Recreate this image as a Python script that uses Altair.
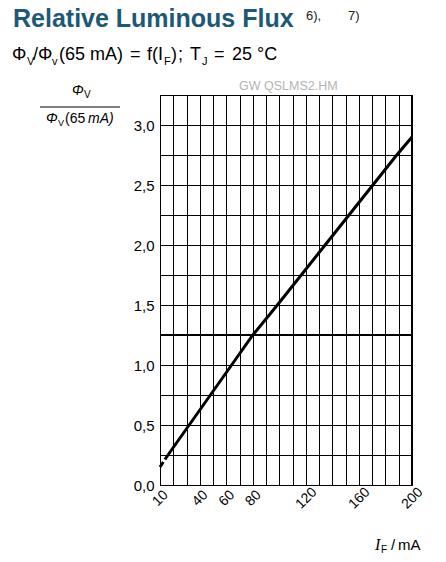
import altair as alt
import pandas as pd

# ---- data ----
current_ma = [10, 16, 32, 48, 64, 80, 98.5, 116.5, 134.5, 152.5, 170.5, 188.5, 200]
rel_flux = [0.15, 0.25, 0.5, 0.75, 1.0, 1.25, 1.5, 1.75, 2.0, 2.25, 2.5, 2.75, 2.9]
dashed_until = 16  # extrapolated (dashed) part of the curve

x_grid = [10, 20, 30, 40, 50, 60, 70, 80, 90, 100, 110, 120, 130, 140, 150,
          160, 170, 180, 190, 200]
x_labels = [10, 40, 60, 80, 120, 160, 200]
y_grid = [0, 0.25, 0.5, 0.75, 1.0, 1.25, 1.5, 1.75, 2.0, 2.25, 2.5, 2.75, 3.0, 3.25]
y_labels = [0, 0.5, 1.0, 1.5, 2.0, 2.5, 3.0]
highlight_level = [1.25]
x_domain = [10, 200]
y_domain = [0, 3.25]

FONT = "Liberation Sans"
SERIF = "Liberation Serif"
TITLE_COLOR = "#1d5876"

df = pd.DataFrame({"I": current_ma, "phi": rel_flux})
df_dash = df[df["I"] <= dashed_until]
df_solid = df[df["I"] >= dashed_until]

xlab_list = ",".join(str(v) for v in x_labels)
ylab_list = ",".join(str(v) for v in y_labels)

x_enc = alt.X(
    "I:Q",
    scale=alt.Scale(domain=x_domain, nice=False, zero=False),
    axis=alt.Axis(
        values=x_grid,
        labelExpr=f"indexof([{xlab_list}], datum.value) >= 0 ? datum.label : ''",
        grid=True, gridColor="black", gridOpacity=1, gridWidth=1,
        ticks=False, domain=False,
        labelAngle=315, labelAlign="center", labelBaseline="middle",
        labelPadding=13, labelFontSize=14, labelFont=FONT, labelColor="black",
        labelFlush=False, labelOverlap=False, labelBound=False,
        title=None,
    ),
)
y_enc = alt.Y(
    "phi:Q",
    scale=alt.Scale(domain=y_domain, nice=False, zero=True),
    axis=alt.Axis(
        values=y_grid,
        labelExpr=f"indexof([{ylab_list}], datum.value) >= 0 ? replace(format(datum.value, '.1f'), '.', ',') : ''",
        grid=True, gridColor="black", gridOpacity=1, gridWidth=1,
        ticks=False, domain=False,
        labelPadding=6, labelFontSize=15, labelFont=FONT, labelColor="black",
        labelFlush=False, labelOverlap=False, labelBound=False,
        title=None,
    ),
)

solid = alt.Chart(df_solid).mark_line(color="black", strokeWidth=3).encode(x=x_enc, y=y_enc)
dashed = alt.Chart(df_dash).mark_line(color="black", strokeWidth=3, strokeDash=[6, 3]).encode(
    x=x_enc, y=y_enc)

hl = alt.Chart(pd.DataFrame({"phi": highlight_level})).mark_rule(
    color="black", strokeWidth=2).encode(y=y_enc)

right_border = alt.Chart(pd.DataFrame({"I": [x_domain[1]]})).mark_rule(
    color="black", strokeWidth=2).encode(x=x_enc)


def txt(s, x, y, size, weight="normal", style="normal", color="black", align="left", font=FONT):
    return alt.Chart(pd.DataFrame({"t": [s]})).mark_text(
        align=align, baseline="alphabetic", fontSize=size, fontWeight=weight,
        fontStyle=style, color=color, font=font,
    ).encode(text="t:N", x=alt.value(x), y=alt.value(y))


# plot origin is at page (160, 95)
SB = -35   # subtitle baseline
SS = -30   # subtitle subscript baseline
texts = [
    txt("Relative Luminous Flux", -147, -68, 25, weight="bold", color=TITLE_COLOR),
    txt("6),", 146, -75, 13, color="#222222"),
    txt("7)", 188, -75, 13, color="#222222"),
    # subtitle
    txt("Φ", -148, SB, 18),
    txt("V", -133, SS, 11),
    txt("/Φ", -127, SB, 18),
    txt("v", -108, SS, 11),
    txt("(65", -101, SB, 18),
    txt("mA)", -70, SB, 18),
    txt("=", -30, SB, 18),
    txt("f(I", -13, SB, 18),
    txt("F", 4, SS, 11),
    txt(")", 11, SB, 18),
    txt(";", 18, SB, 18),
    txt("T", 30, SB, 18),
    txt("J", 42, SS, 11),
    txt("=", 54, SB, 18),
    txt("25", 72, SB, 18),
    txt("°C", 97, SB, 18),
    # watermark
    txt("GW QSLMS2.HM", 79, -5, 12.5, color="#b3b3b3"),
    # y title fraction
    txt("Φ", -88, 0, 14, style="italic"),
    txt("V", -76, 3, 10),
    txt("Φ", -114, 28, 14, style="italic"),
    txt("V", -102, 31, 9),
    txt("(65", -95, 28, 14),
    txt("mA)", -72, 28, 14, style="italic"),
    # x title
    txt("I", 215, 455, 16, style="italic", font=SERIF),
    txt("F", 221, 458, 10),
    txt("/", 231, 455, 15),
    txt("mA", 238, 455, 15),
]

frac_line = alt.Chart(pd.DataFrame({"k": [0]})).mark_rule(color="black", strokeWidth=1).encode(
    x=alt.value(-120), x2=alt.value(-40), y=alt.value(12))

chart = alt.layer(solid, dashed, hl, right_border, frac_line, *texts).properties(
    width=252, height=390,
    autosize=alt.AutoSizeParams(type="none"),
    padding={"left": 152, "top": 87, "right": 26, "bottom": 69},
    background="white",
).configure_view(stroke="black", strokeWidth=1)

chart.save("out.html", embed_options={"renderer": "svg", "actions": False})
